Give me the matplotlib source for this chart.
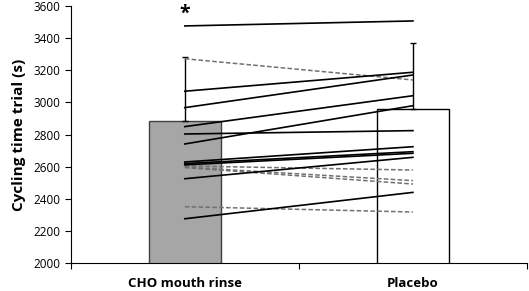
import matplotlib
matplotlib.use("Agg")
import matplotlib.pyplot as plt

plt.rcParams['font.family'] = ['Open Sans', 'DejaVu Sans']

categories = ["CHO mouth rinse", "Placebo"]
bar_means = [2886, 2959]
bar_sd = [396, 413]
bar_colors = ["#a6a6a6", "white"]

# individual subjects: (CHO, Placebo)
solid_cho = [3476, 3070, 2968, 2850, 2804, 2742, 2630, 2620, 2612, 2526, 2277]
solid_pla = [3507, 3188, 3171, 3042, 2825, 2980, 2725, 2694, 2684, 2659, 2441]
dashed_cho = [3272, 2605, 2598, 2595, 2352]
dashed_pla = [3140, 2580, 2514, 2493, 2319]

fig = plt.figure(figsize=(5.29, 2.91), dpi=100)
ax = fig.add_axes([0.1337, 0.0952, 0.8625, 0.8842])

x = [0, 1]
ax.bar(x, bar_means, width=0.315, color=bar_colors,
       edgecolor=["#404040", "black"], linewidth=1.0, zorder=1)
ax.errorbar(x, bar_means, yerr=[[0, 0], bar_sd], fmt="none",
            ecolor="black", elinewidth=1.0, capsize=2.5, capthick=1.0, zorder=2)

for a, b in zip(dashed_cho, dashed_pla):
    ax.plot(x, [a, b], color="#707070", linestyle=(0, (3, 1.5)),
            linewidth=1.1, zorder=3)
for a, b in zip(solid_cho, solid_pla):
    ax.plot(x, [a, b], color="black", linewidth=1.2, zorder=4)

ax.text(0, 3550, "*", ha="center", va="center", fontsize=14, fontweight="bold")

ax.set_xlim(-0.5, 1.5)
ax.set_ylim(2000, 3600)
ax.set_yticks(range(2000, 3601, 200))
ax.set_xticks([-0.5, 0.5, 1.5])
ax.set_xticklabels([])
ax.set_xticks(x, minor=True)
ax.set_xticklabels(categories, minor=True, fontsize=9.5, fontweight="bold")
ax.tick_params(axis="x", which="minor", length=0, pad=10)
ax.tick_params(axis="x", which="major", direction="out", length=4, width=0.8)
ax.tick_params(axis="y", direction="out", length=4, width=0.8, labelsize=8.5)
ax.set_ylabel("Cycling time trial (s)", fontsize=11, fontweight="bold", labelpad=5)

for s in ["top", "right"]:
    ax.spines[s].set_visible(False)
for s in ["left", "bottom"]:
    ax.spines[s].set_linewidth(0.8)

fig.savefig("out.png", dpi=100)
